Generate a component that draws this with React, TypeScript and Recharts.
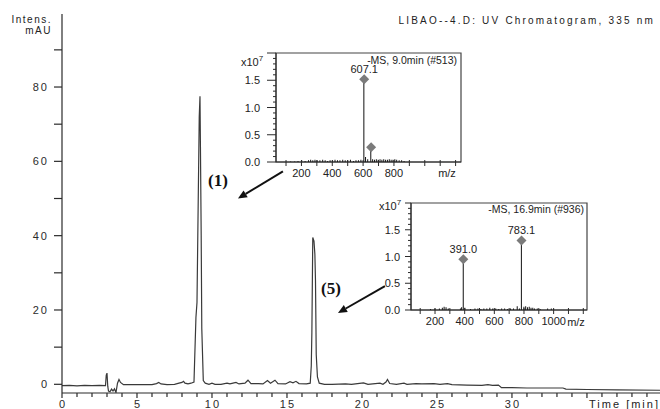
import React from 'react';
import { LineChart, Line, ComposedChart, Bar, Scatter, XAxis, YAxis, ReferenceArea, ReferenceLine } from 'recharts';

const FONT = '"Liberation Sans", Arial, sans-serif';
const INK = '#2b2b2b';

// UV chromatogram, 335 nm (time in min, intensity in mAU)
const traceMin = [
  0, 0.5, 1, 1.5, 2, 2.5, 2.9, 2.95, 3.0, 3.05,
  3.1, 3.2, 3.3, 3.4, 3.5, 3.6, 3.7, 3.8, 3.9, 4.1,
  5, 6, 6.3, 6.45, 6.6, 7, 7.5, 7.8, 8, 8.1,
  8.2, 8.4, 8.6, 8.8, 8.93, 9.0, 9.15, 9.2, 9.23, 9.28,
  9.32, 9.42, 9.55, 9.8, 10, 10.2, 10.6, 11, 11.2, 11.6,
  11.8, 12.2, 12.4, 12.6, 13.1, 13.4, 13.7, 13.9, 14.2, 14.4,
  14.9, 15.2, 15.4, 15.6, 15.8, 16.3, 16.55, 16.62, 16.66, 16.72,
  16.8, 16.86, 16.9, 16.95, 17.03, 17.15, 17.5, 18, 18.9, 19.3,
  19.7, 20.1, 20.4, 21.2, 21.4, 21.6, 21.7, 21.85, 22.3, 22.8,
  23, 23.6, 24, 24.8, 25.2, 25.7, 26, 27, 28, 28.4,
  28.7, 29.1, 29.3, 30, 31, 32, 33.4, 33.6, 35, 37,
  39.87,
];
const traceMAU = [
  -0.35, -0.3, -0.4, -0.3, -0.35, -0.3, -0.35, 2.5, 3.0, -0.5,
  -1.8, -2.0, -1.3, -1.8, -1.2, -2.2, 0.3, 1.3, 0.5, -0.1,
  -0.1, -0.1, 0.2, 0.5, 0.1, -0.1, 0, 0.3, 0.5, 0.8,
  0.3, 0.1, 0.3, 0.6, 18, 22, 72, 77.5, 64, 40,
  15, 1, 0.3, 0, 0.3, 0, 0, 0.3, 0.1, 0.5,
  0.1, 0.3, 1.1, 0.2, 0.2, 0.1, 1.0, 0.3, 1.1, 0.2,
  0.1, 0.7, 0.4, 0.8, 0.2, 0.1, 0.3, 5, 14, 39.5,
  38.5, 35, 28, 8, 2, 0.3, 0, 0, 0.1, 0,
  0.2, 0.4, 0, 0.3, 0, 0.6, 1.3, 0.2, 0, 0.3,
  0, 0.2, 0.1, 0.2, 0, 0.2, -0.1, -0.2, -0.3, -0.1,
  -0.3, -0.2, -0.9, -0.9, -1.0, -1.0, -1.0, -1.3, -1.4, -1.5,
  -1.6,
];

const mainYTicks = [0, 10, 20, 30, 40, 50, 60, 70, 80, 90];
const mainXTicks = Array.from({ length: 40 }, (_, i) => i);
const mainXLabels = [0, 5, 10, 15, 20, 25, 30];

// MS spectrum at 9.0 min (#513), intensity x10^7
const ms1Mz = [
  132, 158, 180, 204, 226, 248, 262, 276, 290, 304,
  322, 340, 356, 372, 388, 404, 420, 436, 452, 470,
  486, 502, 520, 540, 556, 572, 588, 607.1, 618, 632,
  652, 664, 676, 688, 700, 712, 724, 736, 748, 760,
  772, 784, 796, 808, 820, 836, 852, 868,
];
const ms1Int = [
  0.01, 0.01, 0.02, 0.03, 0.02, 0.03, 0.04, 0.03, 0.04, 0.03,
  0.03, 0.04, 0.03, 0.02, 0.03, 0.03, 0.04, 0.03, 0.03, 0.04,
  0.03, 0.03, 0.04, 0.02, 0.03, 0.03, 0.04, 1.52, 0.09, 0.05,
  0.27, 0.05, 0.04, 0.05, 0.04, 0.05, 0.04, 0.05, 0.04, 0.04,
  0.05, 0.04, 0.04, 0.05, 0.04, 0.03, 0.03, 0.02,
];
const ms1PeakMz = [607.1, 652];
const ms1PeakInt = [1.52, 0.27];
const ms1PeakText = ['607.1', ''];

// MS spectrum at 16.9 min (#936), intensity x10^7
const ms2Mz = [
  170, 200, 230, 250, 262, 275, 290, 372, 380, 391.0,
  402, 440, 470, 490, 510, 530, 550, 570, 590, 610,
  630, 650, 670, 690, 710, 730, 755, 770, 783.1, 800,
  812, 824, 836, 848, 860, 872, 890, 910, 960, 985,
  1000,
];
const ms2Int = [
  0.02, 0.03, 0.03, 0.04, 0.06, 0.05, 0.03, 0.03, 0.05, 0.95,
  0.04, 0.02, 0.03, 0.03, 0.02, 0.03, 0.03, 0.04, 0.03, 0.03,
  0.02, 0.03, 0.03, 0.02, 0.03, 0.03, 0.07, 0.03, 1.3, 0.06,
  0.07, 0.05, 0.06, 0.04, 0.04, 0.03, 0.03, 0.02, 0.03, 0.03,
  0.02,
];
const ms2PeakMz = [391.0, 783.1];
const ms2PeakInt = [0.95, 1.3];
const ms2PeakText = ['391.0', '783.1'];

const msYTicks = Array.from({ length: 21 }, (_, i) => i / 10);
const msXTicks = [100, 200, 300, 400, 500, 600, 700, 800, 900, 1000, 1100, 1200];

const traceData = traceMin.map((t, i) => ({ t, v: traceMAU[i] }));

const MainYTick = ({ x, y, payload }: any) => {
  const v = payload.value;
  return (
    <g>
      <line x1={x - 8} y1={y} x2={x} y2={y} stroke={INK} strokeWidth={1.2} />
      {v % 20 === 0 && (
        <text x={x - 13} y={y + 4} textAnchor="end" fontSize={11} letterSpacing={2} fill={INK} fontFamily={FONT}>
          {v}
        </text>
      )}
    </g>
  );
};

const MainXTick = ({ x, y, payload }: any) => {
  const v = payload.value;
  const major = v % 5 === 0;
  return (
    <g>
      <line x1={x} y1={y} x2={x} y2={y + (major ? 5 : 4)} stroke={INK} strokeWidth={1.2} />
      {mainXLabels.includes(v) && (
        <text x={x + 1} y={y + 15} textAnchor="middle" fontSize={11} letterSpacing={2} fill={INK} fontFamily={FONT}>
          {v}
        </text>
      )}
    </g>
  );
};

const Arrow = (p: any) => {
  const { x1, y1, x2, y2 } = p;
  const a = Math.atan2(y2 - y1, x2 - x1);
  const L = 9;
  const W = 4;
  const bx = x2 - L * Math.cos(a);
  const by = y2 - L * Math.sin(a);
  const px = -Math.sin(a) * W;
  const py = Math.cos(a) * W;
  return (
    <g>
      <line x1={x1} y1={y1} x2={bx} y2={by} stroke="#111" strokeWidth={2} />
      <polygon points={`${x2},${y2} ${bx + px},${by + py} ${bx - px},${by - py}`} fill="#111" />
    </g>
  );
};

const Diamond = (p: any) => {
  const { cx, cy, payload } = p;
  const r = 5;
  return (
    <g>
      <polygon points={`${cx},${cy - r} ${cx + r},${cy} ${cx},${cy + r} ${cx - r},${cy}`} fill="#7b7b7b" />
      {payload.label ? (
        <text x={cx} y={cy - 6} textAnchor="middle" fontSize={11} fill="#222" fontFamily={FONT}>
          {payload.label}
        </text>
      ) : null}
    </g>
  );
};

interface SpectrumProps {
  left: number;
  top: number;
  width: number;
  plotW: number;
  plotH: number;
  domain: [number, number];
  mz: number[];
  inten: number[];
  peakMz: number[];
  peakInt: number[];
  peakText: string[];
  xLabels: number[];
  majorLen: number;
  labelGap: number;
}

const Spectrum = ({ left, top, width, plotW, plotH, domain, mz, inten, peakMz, peakInt, peakText, xLabels, majorLen, labelGap }: SpectrumProps) => {
  const data = mz.map((m, i) => ({ mz: m, i: inten[i] }));
  const peaks = peakMz.map((m, i) => ({ mz: m, i: peakInt[i], label: peakText[i] }));
  const yW = 50;
  const height = plotH + 10 + 24;

  const YTick = ({ x, y, payload }: any) => {
    const v = payload.value;
    const major = Math.round(v * 10) % 5 === 0;
    return (
      <g>
        <line x1={x - (major ? majorLen : 3)} y1={y} x2={x} y2={y} stroke={INK} strokeWidth={1} />
        {major && v < 1.99 && (
          <text x={x - labelGap} y={y + 4} textAnchor="end" fontSize={11} fill="#222" fontFamily={FONT}>
            {v.toFixed(1)}
          </text>
        )}
      </g>
    );
  };

  const XTick = ({ x, y, payload }: any) => {
    const v = payload.value;
    return (
      <g>
        <line x1={x} y1={y - 2} x2={x} y2={y + 4} stroke={INK} strokeWidth={1} />
        {xLabels.includes(v) && (
          <text x={x} y={y + 15} textAnchor="middle" fontSize={11} fill="#222" fontFamily={FONT}>
            {v}
          </text>
        )}
      </g>
    );
  };

  return (
    <div style={{ position: 'absolute', left, top }}>
      <ComposedChart width={width} height={height} data={data} margin={{ top: 10, right: width - yW - plotW, bottom: 0, left: 0 }}>
        <XAxis
          dataKey="mz"
          type="number"
          domain={domain}
          allowDataOverflow
          ticks={msXTicks}
          interval={0}
          tickSize={0}
          tickMargin={0}
          tickLine={false}
          tick={(p: any) => <XTick {...p} />}
          axisLine={{ stroke: INK }}
          height={24}
        />
        <YAxis
          type="number"
          domain={[0, 2]}
          allowDataOverflow
          ticks={msYTicks}
          interval={0}
          tickSize={0}
          tickMargin={0}
          tickLine={false}
          tick={(p: any) => <YTick {...p} />}
          axisLine={{ stroke: INK }}
          width={yW}
        />
        <ReferenceArea x1={domain[0]} x2={domain[1]} y1={0} y2={2} fill="#fff" fillOpacity={1} stroke="#444" strokeWidth={1.2} />
        <Bar dataKey="i" fill="#111" barSize={1} isAnimationActive={false} />
        <Scatter data={peaks} dataKey="i" shape={(p: any) => <Diamond {...p} />} isAnimationActive={false} />
      </ComposedChart>
    </div>
  );
};

const App = () => {
  return (
    <div style={{ position: 'absolute', left: 0, top: 0, width: 660, height: 409, background: '#fff', fontFamily: FONT }}>
      <LineChart width={660} height={409} data={traceData} margin={{ top: 14, right: 0, bottom: 0, left: 0 }}>
        <XAxis
          dataKey="t"
          type="number"
          domain={[0, 39.87]}
          allowDataOverflow
          ticks={mainXTicks}
          interval={0}
          tickSize={0}
          tickMargin={0}
          tickLine={false}
          tick={(p: any) => <MainXTick {...p} />}
          axisLine={{ stroke: INK, strokeWidth: 1.2 }}
          height={16}
        />
        <YAxis
          type="number"
          domain={[-2.34, 99.65]}
          allowDataOverflow
          ticks={mainYTicks}
          interval={0}
          tickSize={0}
          tickMargin={0}
          tickLine={false}
          tick={(p: any) => <MainYTick {...p} />}
          axisLine={{ stroke: INK, strokeWidth: 1.2 }}
          width={62}
        />
        <Line type="linear" dataKey="v" stroke="#3a3a3a" strokeWidth={1.2} dot={false} isAnimationActive={false} />
        <ReferenceLine segment={[{ x: 14.73, y: 57.3 }, { x: 11.73, y: 50.0 }]} shape={(p: any) => <Arrow {...p} />} />
        <ReferenceLine segment={[{ x: 21.53, y: 26.4 }, { x: 18.4, y: 19.2 }]} shape={(p: any) => <Arrow {...p} />} />
      </LineChart>

      <Spectrum
        left={226}
        top={43}
        width={250}
        plotW={185}
        plotH={109}
        domain={[35, 1235]}
        mz={ms1Mz}
        inten={ms1Int}
        peakMz={ms1PeakMz}
        peakInt={ms1PeakInt}
        peakText={ms1PeakText}
        xLabels={[200, 400, 600, 800]}
        majorLen={9}
        labelGap={16}
      />
      <Spectrum
        left={361}
        top={193}
        width={240}
        plotW={176}
        plotH={107}
        domain={[38, 1225]}
        mz={ms2Mz}
        inten={ms2Int}
        peakMz={ms2PeakMz}
        peakInt={ms2PeakInt}
        peakText={ms2PeakText}
        xLabels={[200, 400, 600, 800, 1000]}
        majorLen={6}
        labelGap={11}
      />

      <svg width={660} height={409} style={{ position: 'absolute', left: 0, top: 0, pointerEvents: 'none' }} fontFamily={FONT}>
        <text x={655} y={24} textAnchor="end" fontSize={10} letterSpacing={2.2} fill="#222">
          LIBAO--4.D: UV Chromatogram, 335 nm
        </text>
        <text x={52} y={23} textAnchor="end" fontSize={10} letterSpacing={1.5} fill="#222">Intens.</text>
        <text x={52} y={34} textAnchor="end" fontSize={10} letterSpacing={1.5} fill="#222">mAU</text>
        <text x={660} y={408} textAnchor="end" fontSize={11} letterSpacing={2} fill="#222">Time [min]</text>

        <text x={208} y={186} fontSize={17} fontWeight="bold" fontFamily='"Liberation Serif", "Times New Roman", serif' fill="#111">(1)</text>
        <text x={321} y={294} fontSize={17} fontWeight="bold" fontFamily='"Liberation Serif", "Times New Roman", serif' fill="#111">(5)</text>

        <text x={457} y={63.5} textAnchor="end" fontSize={10.5} fill="#222">-MS, 9.0min (#513)</text>
        <text x={241} y={66} fontSize={11} fill="#222">x10<tspan dy={-5} fontSize={8}>7</tspan></text>
        <text x={447} y={177} textAnchor="middle" fontSize={11} fill="#222">m/z</text>

        <text x={584} y={213} textAnchor="end" fontSize={10.5} fill="#222">-MS, 16.9min (#936)</text>
        <text x={379} y={210} fontSize={11} fill="#222">x10<tspan dy={-5} fontSize={8}>7</tspan></text>
        <text x={576} y={326} textAnchor="middle" fontSize={11} fill="#222">m/z</text>
      </svg>
    </div>
  );
};

export default App;
